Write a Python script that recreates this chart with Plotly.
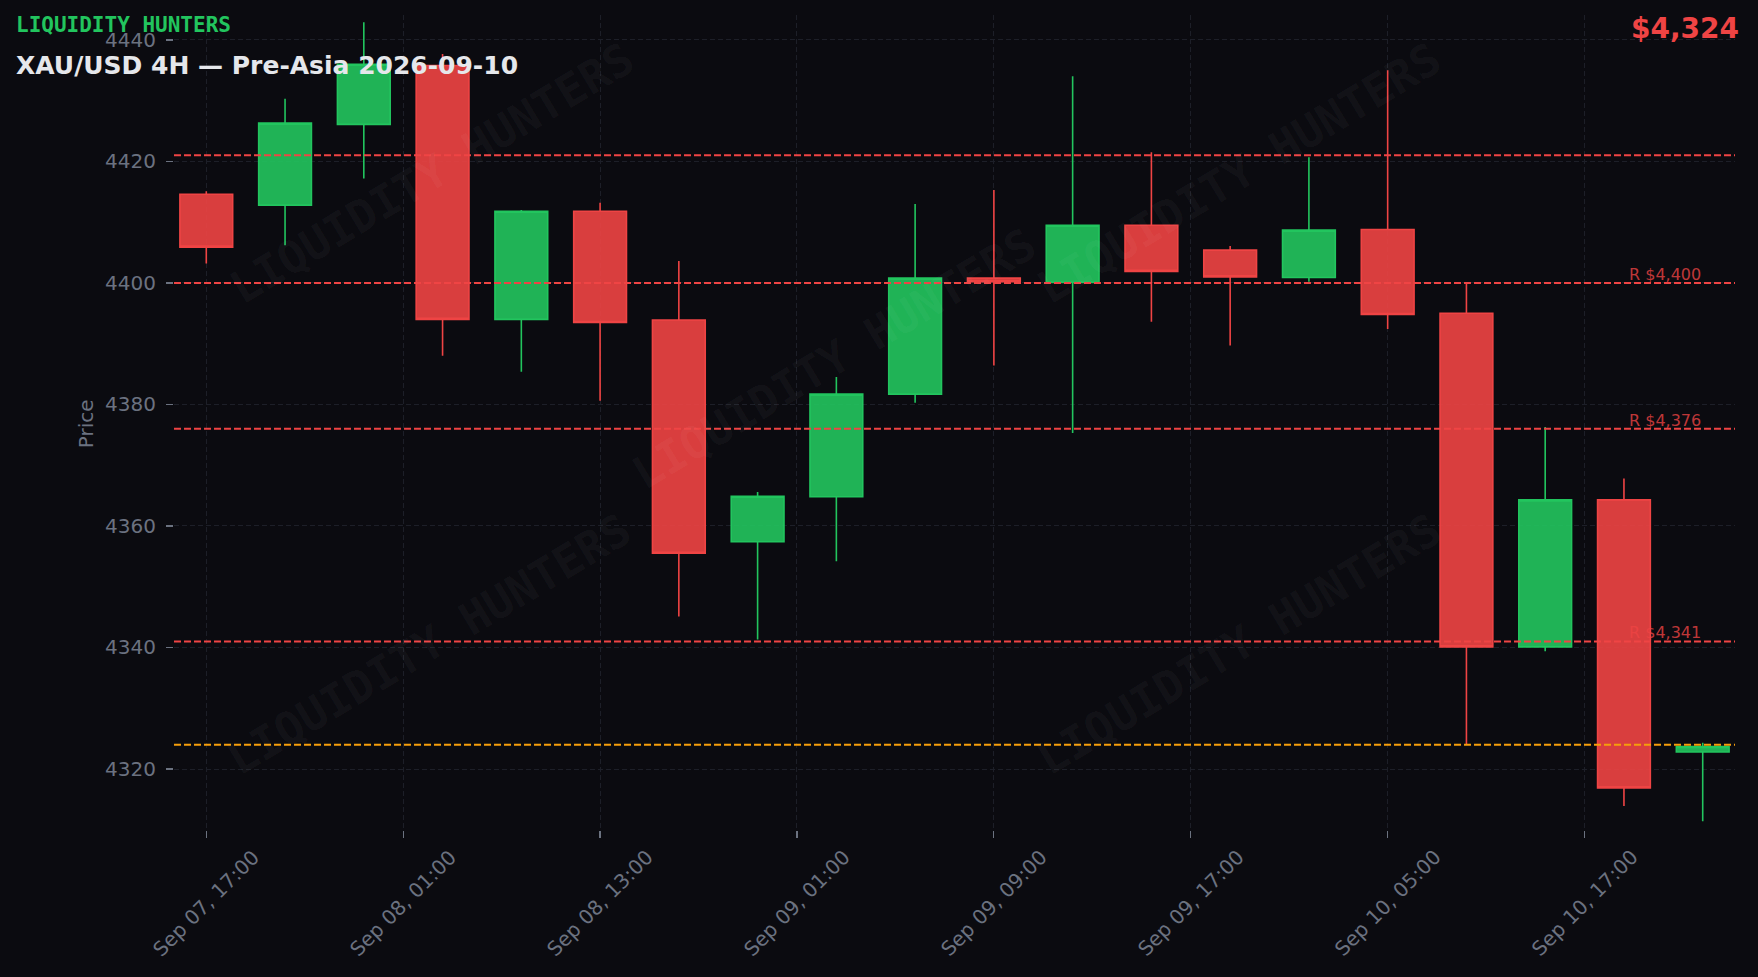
import plotly.graph_objects as go

# ---------------- data ----------------
tick_labels = ["Sep 07, 17:00", "Sep 08, 01:00", "Sep 08, 13:00", "Sep 09, 01:00",
               "Sep 09, 09:00", "Sep 09, 17:00", "Sep 10, 05:00", "Sep 10, 17:00"]

opens = [4414.6, 4412.8, 4426.1, 4435.8, 4394.0, 4411.8, 4393.9, 4357.4, 4364.8, 4381.7,
         4400.8, 4400.1, 4409.5, 4405.4, 4400.9, 4408.8, 4395.0, 4340.1, 4364.3, 4322.8]
closes = [4405.9, 4426.3, 4436.0, 4394.0, 4411.8, 4393.5, 4355.5, 4364.9, 4381.7, 4400.8,
          4400.2, 4409.5, 4401.9, 4401.0, 4408.7, 4394.8, 4340.1, 4364.3, 4316.9, 4323.7]
highs = [4415.1, 4430.3, 4442.9, 4437.7, 4412.0, 4413.2, 4403.6, 4365.6, 4384.5, 4413.0,
         4415.3, 4434.0, 4421.5, 4406.1, 4420.7, 4435.0, 4400.0, 4376.3, 4367.8, 4324.3]
lows = [4403.2, 4406.2, 4417.2, 4388.0, 4385.4, 4380.6, 4345.1, 4341.3, 4354.2, 4380.3,
        4386.4, 4375.3, 4393.6, 4389.7, 4400.2, 4392.4, 4324.1, 4339.4, 4313.9, 4311.4]

levels = [4421, 4400, 4376, 4341]
level_labels = ["", "R $4,400", "R $4,376", "R $4,341"]
current_price = 4324
y_ticks = [4320, 4340, 4360, 4380, 4400, 4420, 4440]

brand = "LIQUIDITY HUNTERS"
title = "XAU/USD 4H — Pre-Asia 2026-09-10"
price_text = "$4,324"

# ---------------- style ----------------
BG = "#0b0b10"
GRID = "#1d1f28"
TICK = "#6b7280"
GREEN = "#22c55e"
RED = "#ef4444"
ORANGE = "#f59e0b"
FONT = "DejaVu Sans"
MONO = "DejaVu Sans Mono"

W, H = 1758, 977
ML, MR, MT, MB = 174, 23, 15, 147

candle_x = list(range(len(opens)))
tick_step = 2.5
tick_vals = [i * tick_step for i in range(len(tick_labels))]

fig = go.Figure()
fig.add_trace(go.Candlestick(
    x=candle_x, open=opens, high=highs, low=lows, close=closes,
    increasing=dict(line=dict(color=GREEN, width=1.6), fillcolor="rgba(34,197,94,0.9)"),
    decreasing=dict(line=dict(color=RED, width=1.6), fillcolor="rgba(239,68,68,0.9)"),
    whiskerwidth=0, showlegend=False, hoverinfo="skip",
))

# level lines
for lv in levels:
    fig.add_shape(type="line", xref="paper", x0=0, x1=1, yref="y", y0=lv, y1=lv,
                  line=dict(color=RED, width=2, dash="7px,3px"), layer="above")
fig.add_shape(type="line", xref="paper", x0=0, x1=1, yref="y", y0=current_price, y1=current_price,
              line=dict(color=ORANGE, width=2, dash="7px,3px"), layer="above")

ann = []
# level labels
for lv, lab in zip(levels, level_labels):
    if lab:
        ann.append(dict(x=candle_x[-1], xref="x", y=lv, yref="y", text=lab, showarrow=False,
                        xanchor="right", yanchor="bottom", yshift=-3,
                        font=dict(family=FONT, size=16, color="rgba(239,68,68,0.8)")))

# x tick labels (rotated, centred on tick)
for tv, tl in zip(tick_vals, tick_labels):
    ann.append(dict(x=tv, xref="x", y=0, yref="paper", yshift=-73, text=tl, showarrow=False,
                    textangle=-45, xanchor="center", yanchor="middle",
                    font=dict(family=FONT, size=20, color=TICK)))

# watermarks
wm_pos = [(0.1653, 0.805), (0.4234, 0.578), (0.6823, 0.805), (0.1634, 0.227), (0.6823, 0.227)]
for wx, wy in wm_pos:
    ann.append(dict(x=wx, y=wy, xref="paper", yref="paper", text="<b>" + brand + "</b>",
                    showarrow=False, textangle=-31, xanchor="center", yanchor="middle",
                    font=dict(family=MONO, size=45, color="rgba(255,255,255,0.045)")))

# y title
ann.append(dict(x=0, xref="paper", xshift=-88, y=0.498, yref="paper", text="Price",
                showarrow=False, textangle=-90, xanchor="center", yanchor="middle",
                font=dict(family=FONT, size=20, color=TICK)))

# header texts
ann.append(dict(x=0, xref="paper", xshift=-160, y=1, yref="paper", yshift=-10,
                text="<b>" + brand + "</b>", showarrow=False, xanchor="left", yanchor="middle",
                font=dict(family=MONO, size=21, color=GREEN)))
ann.append(dict(x=0, xref="paper", xshift=-160, y=1, yref="paper", yshift=-50,
                text="<b>" + title + "</b>", showarrow=False, xanchor="left", yanchor="middle",
                font=dict(family=FONT, size=25, color="#e5e7eb")))
ann.append(dict(x=1, xref="paper", xshift=6, y=1, yref="paper", yshift=-13,
                text="<b>" + price_text + "</b>", showarrow=False, xanchor="right", yanchor="middle",
                font=dict(family=FONT, size=28, color=RED)))

fig.update_layout(
    width=W, height=H,
    margin=dict(l=ML, r=MR, t=MT, b=MB, pad=0),
    paper_bgcolor=BG, plot_bgcolor=BG,
    boxgap=0.33, boxgroupgap=0,
    showlegend=False,
    annotations=ann,
    xaxis=dict(
        range=[-0.41, 19.41], tickvals=tick_vals, ticktext=[""] * len(tick_vals),
        showticklabels=False, ticks="outside", ticklen=7, tickwidth=1.2, tickcolor=TICK,
        showgrid=True, gridcolor=GRID, gridwidth=1, griddash="5px,3px",
        zeroline=False, showline=False, rangeslider=dict(visible=False),
    ),
    yaxis=dict(
        range=[4309.96, 4444.1], tickvals=y_ticks, ticks="outside", ticklen=7,
        tickwidth=1.2, tickcolor=TICK, ticklabelstandoff=6,
        tickfont=dict(family=FONT, size=20, color=TICK),
        showgrid=True, gridcolor=GRID, gridwidth=1, griddash="5px,3px",
        zeroline=False, showline=False,
    ),
)

fig.write_html(
    "out.html",
    config={"displayModeBar": False, "staticPlot": True},
    post_script="document.body.style.margin='0';document.body.style.background='" + BG + "';document.body.style.overflow='hidden';",
)
